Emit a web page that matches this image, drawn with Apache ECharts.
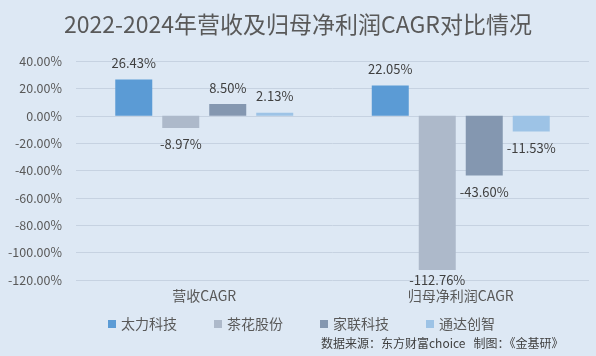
<!DOCTYPE html>
<html>
<head>
<meta charset="utf-8">
<script src="https://cdn.jsdelivr.net/npm/echarts@6/dist/echarts.min.js"></script>
<style>
html,body{margin:0;padding:0;background:#dde8f4;}
#c{width:596px;height:356px;}
</style>
</head>
<body>
<div id="c"></div>
<script>
const categories = ['营收CAGR', '归母净利润CAGR'];
const seriesNames = ['太力科技', '茶花股份', '家联科技', '通达创智'];
const taili = [26.43, 22.05];
const chahua = [-8.97, -112.76];
const jialian = [8.50, -43.60];
const tongda = [2.13, -11.53];
const colors = ['#5b9bd5', '#adb9ca', '#8497b0', '#9dc3e6'];
const titleText = '2022-2024年营收及归母净利润CAGR对比情况';
const sourceText = '数据来源：东方财富choice   制图：《金基研》';

const FONT = '"Noto Sans CJK SC", "Noto Sans", sans-serif';
const chart = echarts.init(document.getElementById('c'));
const allData = [taili, chahua, jialian, tongda];

function mkSeries(i) {
  return {
    name: seriesNames[i],
    type: 'bar',
    barWidth: 37,
    barGap: '27%',
    itemStyle: { color: colors[i] },
    data: allData[i].map(v => ({
      value: v,
      label: {
        show: true,
        position: v >= 0 ? 'top' : 'bottom',
        distance: v < -100 ? 3 : 10
      }
    })),
    label: {
      show: true,
      color: '#404040',
      fontSize: 13,
      fontFamily: FONT,
      formatter: p => p.value.toFixed(2) + '%'
    }
  };
}

chart.setOption({
  backgroundColor: '#dde8f4',
  animation: false,
  textStyle: { fontFamily: FONT },
  title: {
    text: titleText,
    left: 'center',
    top: 8,
    textStyle: { color: '#595959', fontSize: 23, fontWeight: 'normal', fontFamily: FONT }
  },
  graphic: [{
    type: 'text',
    left: 321,
    top: 337,
    style: { text: sourceText, fill: '#404040', fontSize: 12, fontFamily: FONT }
  }],
  legend: {
    data: seriesNames,
    left: 103,
    top: 312,
    itemWidth: 8,
    itemHeight: 8,
    itemGap: 37,
    icon: 'rect',
    textStyle: { color: '#595959', fontSize: 14, fontFamily: FONT }
  },
  grid: { left: 76, right: 7, top: 61, bottom: 76 },
  xAxis: {
    type: 'category',
    data: categories,
    position: 'bottom',
    axisLine: { show: false },
    axisTick: { show: false },
    axisLabel: { color: '#595959', fontSize: 14, margin: 9, fontFamily: FONT }
  },
  yAxis: {
    type: 'value',
    min: -120,
    max: 40,
    interval: 20,
    axisLine: { show: false },
    axisTick: { show: false },
    splitLine: { lineStyle: { color: '#c6d2e1', width: 1 } },
    axisLabel: {
      color: '#595959',
      fontSize: 12.5,
      margin: 14,
      fontFamily: FONT,
      formatter: v => v.toFixed(2) + '%'
    }
  },
  series: [0, 1, 2, 3].map(mkSeries)
});
</script>
</body>
</html>
